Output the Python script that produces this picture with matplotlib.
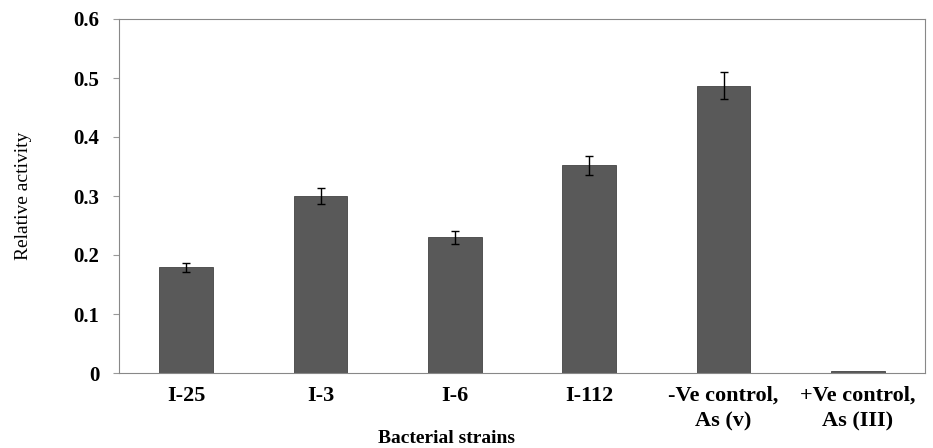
import numpy as np
import matplotlib
matplotlib.use("Agg")
import matplotlib.pyplot as plt

# datos
cepas = ["I-25", "I-3", "I-6", "I-112", "-Ve control,\nAs (v)", "+Ve control,\nAs (III)"]
actividad = [0.179, 0.300, 0.230, 0.352, 0.487, 0.003]
error = [0.008, 0.013, 0.011, 0.016, 0.023, 0.0]

plt.rcParams['font.family'] = ['Liberation Serif', 'DejaVu Serif']

fig = plt.figure(figsize=(9.33, 4.48), dpi=100)
ax = fig.add_axes([119 / 933, 1 - 373 / 448, (925 - 119) / 933, (373 - 19) / 448])

x = np.arange(len(cepas))
ax.bar(x, actividad, width=0.4, color="#595959", edgecolor="#444444", linewidth=0.6,
       yerr=[e if e > 0 else np.nan for e in error], capsize=3,
       error_kw=dict(ecolor="black", elinewidth=1.0, capthick=1.0))

ax.set_xlim(-0.5, len(cepas) - 0.5)
ax.set_ylim(0, 0.6)
ax.set_yticks([0, 0.1, 0.2, 0.3, 0.4, 0.5, 0.6])
ax.set_yticklabels(["0", "0.1", "0.2", "0.3", "0.4", "0.5", "0.6"], fontsize=15, fontweight="bold")
ax.set_xticks(x)
ax.set_xticklabels(cepas, fontsize=16, fontweight="bold", linespacing=1.4)
ax.tick_params(axis="x", length=0, pad=9)
ax.tick_params(axis="y", length=4, color="#999999", pad=10)

for s in ax.spines.values():
    s.set_color("#888888")
    s.set_linewidth(0.8)

ax.set_ylabel("Relative activity", fontsize=14, labelpad=30)
# titulo eje x puesto a mano para que no se corte
fig.text(447 / 933, 1 - 438 / 448, "Bacterial strains",
         fontsize=14, fontweight="bold", ha="center", va="center")

fig.savefig("out.png", dpi=100)
